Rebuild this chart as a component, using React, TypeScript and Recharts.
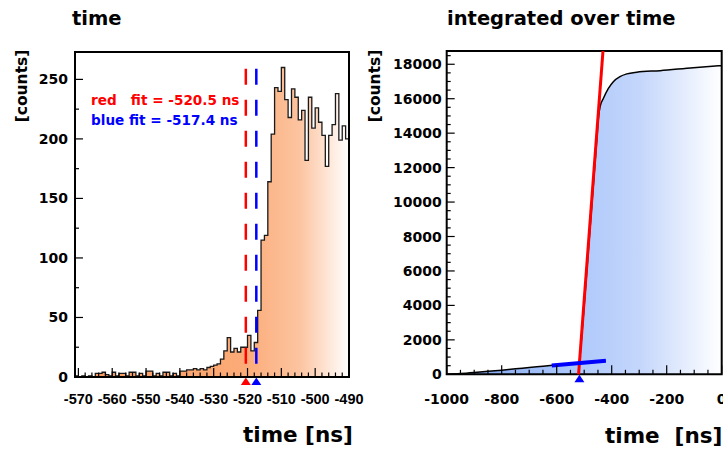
import React from "react";
import { ComposedChart, Area, XAxis, YAxis, ReferenceLine, ReferenceArea, ReferenceDot } from "recharts";

// left panel: histogram, 1 ns bins starting at -571 ns
const histStart = -571;
const histCounts = [
  1, 0, 1, 0, 1, 0, 3, 3, 4, 2,
  1, 4, 1, 3, 3, 1, 4, 4, 1, 3,
  1, 5, 5, 1, 3, 1, 4, 4, 1, 3,
  1, 5, 5, 6, 6, 7, 6, 7, 6, 8,
  9, 10, 11, 15, 22, 33, 21, 24, 21, 25,
  25, 35, 22, 29, 56, 115, 119, 164, 204, 243,
  240, 260, 233, 218, 242, 235, 216, 224, 182, 235,
  209, 226, 214, 203, 177, 203, 212, 238, 199, 211,
  200,
];
const leftXMajor = [-570, -560, -550, -540, -530, -520, -510, -500, -490];
const leftYMajor = [0, 50, 100, 150, 200, 250];

// right panel: integrated counts
const cumTime = [-1000, -950, -900, -850, -800, -750, -700, -650, -600, -550, -530, -518, -515, -510, -500, -490, -480, -470, -460, -452, -448, -442, -430, -412, -394, -370, -345, -309, -224, -103, 0];
const cumCounts = [0, 40, 100, 170, 240, 320, 390, 470, 545, 620, 650, 700, 1100, 2000, 4000, 6100, 8200, 10300, 12400, 14100, 14900, 15550, 16030, 16600, 16990, 17280, 17440, 17540, 17630, 17800, 17920];
const rightXMajor = [-1000, -800, -600, -400, -200, 0];
const rightYMajor = [0, 2000, 4000, 6000, 8000, 10000, 12000, 14000, 16000, 18000];

const redFitT = -520.5;
const blueFitT = -517.4;
const redFitLine = [{ x: -520.5, y: 0 }, { x: -431.7, y: 18770 }];
const blueFitLine = [{ x: -618, y: 515 }, { x: -421, y: 785 }];

const histData = histCounts.map((c, i) => ({ t: histStart + i, c }));
histData.push({ t: histStart + histCounts.length, c: histCounts[histCounts.length - 1] });
const cumData = cumTime.map((t, i) => ({ t, c: cumCounts[i] }));

const stepTicks = (from: number, to: number, step: number) => {
  const out: number[] = [];
  for (let v = from; v <= to + 1e-9; v += step) out.push(v);
  return out;
};

const makeYTick = (axisX: number, majors: number[], gap: number, font: string, size: number) => (props: any) => {
  const { y, payload } = props;
  const major = majors.includes(payload.value);
  return (
    <g>
      <line x1={axisX} x2={axisX + (major ? 8 : 4)} y1={y} y2={y} stroke="#000" strokeWidth={1.2} />
      {major && (
        <text x={axisX - gap} y={y} textAnchor="end" dominantBaseline="central" fontFamily={font} fontWeight="bold" fontSize={size} fill="#000">
          {payload.value}
        </text>
      )}
    </g>
  );
};

const makeXTick = (axisY: number, majors: number[], labelY: number, font: string, size: number) => (props: any) => {
  const { x, payload } = props;
  const major = majors.includes(payload.value);
  return (
    <g>
      <line x1={x} x2={x} y1={axisY} y2={axisY - (major ? 9 : 4.5)} stroke="#000" strokeWidth={1.2} />
      {major && (
        <text x={x} y={labelY} textAnchor="middle" dominantBaseline="central" fontFamily={font} fontWeight="bold" fontSize={size} fill="#000">
          {payload.value}
        </text>
      )}
    </g>
  );
};

const triangle = (color: string) => (p: any) => (
  <polygon points={`${p.cx},${p.cy + 0.5} ${p.cx - 5},${p.cy + 8} ${p.cx + 5},${p.cy + 8}`} fill={color} />
);

const txt = { fontFamily: "DejaVu Sans", fontWeight: "bold" as const };

export default function App() {
  return (
    <div style={{ position: "absolute", left: 0, top: 0, width: 723, height: 452, background: "#fff", overflow: "hidden" }}>
      <div style={{ position: "absolute", left: 0, top: 0 }}>
        <ComposedChart width={372} height={452} data={histData} margin={{ top: 52, right: 23, bottom: 45, left: 15 }}>
          <defs>
            <linearGradient id="orangeFill" x1="0" y1="0" x2="1" y2="0">
              <stop offset="0" stopColor="#f79a5c" />
              <stop offset="0.62" stopColor="#fcab78" />
              <stop offset="0.82" stopColor="#fcc4a0" />
              <stop offset="1" stopColor="#ffffff" />
            </linearGradient>
          </defs>
          <XAxis dataKey="t" type="number" domain={[-571, -490]} allowDataOverflow height={30}
            ticks={stepTicks(-570, -490, 2)} interval={0} axisLine={false} tickLine={false}
            tick={makeXTick(377, leftXMajor, 398.7, "Liberation Sans", 14.5)} />
          <YAxis type="number" domain={[0, 273]} allowDataOverflow width={60}
            ticks={stepTicks(0, 250, 25)} interval={0} axisLine={false} tickLine={false}
            tick={makeYTick(75, leftYMajor, 7, "DejaVu Sans", 14)} />
          <Area dataKey="c" type="stepAfter" stroke="#1a1a1a" strokeWidth={1.3} fill="url(#orangeFill)" fillOpacity={1} isAnimationActive={false} />
          <ReferenceLine segment={[{ x: redFitT, y: 259 }, { x: redFitT, y: 0 }]} stroke="#ff0000" strokeWidth={2.5} strokeDasharray="16 15" />
          <ReferenceLine segment={[{ x: blueFitT, y: 259 }, { x: blueFitT, y: 0 }]} stroke="#0000ff" strokeWidth={2.5} strokeDasharray="16 15" />
          <ReferenceArea x1={-571} x2={-490} y1={0} y2={273} fill="none" stroke="#000" strokeWidth={2} />
          <ReferenceDot x={redFitT} y={0} r={5} ifOverflow="visible" shape={triangle("#ff0000")} />
          <ReferenceDot x={blueFitT} y={0} r={5} ifOverflow="visible" shape={triangle("#0000ff")} />
        </ComposedChart>
      </div>
      <div style={{ position: "absolute", left: 360, top: 0 }}>
        <ComposedChart width={363} height={452} data={cumData} margin={{ top: 51, right: 1.3, bottom: 47.7, left: 16.7 }}>
          <defs>
            <linearGradient id="blueFill" x1="0" y1="0" x2="1" y2="0">
              <stop offset="0" stopColor="#6d97e8" />
              <stop offset="0.3" stopColor="#9dbcf7" />
              <stop offset="0.45" stopColor="#abc7fb" />
              <stop offset="0.7" stopColor="#c4d6fb" />
              <stop offset="1" stopColor="#ffffff" />
            </linearGradient>
          </defs>
          <XAxis dataKey="t" type="number" domain={[-1000, 0]} allowDataOverflow height={30}
            ticks={stepTicks(-1000, 0, 50)} interval={0} axisLine={false} tickLine={false}
            tick={makeXTick(374.3, rightXMajor, 398.7, "DejaVu Sans", 14)} />
          <YAxis type="number" domain={[0, 18770]} allowDataOverflow width={70}
            ticks={stepTicks(0, 18500, 500)} interval={0} axisLine={false} tickLine={false}
            tick={makeYTick(86.7, rightYMajor, 5, "DejaVu Sans", 14)} />
          <Area dataKey="c" type="monotone" stroke="#000" strokeWidth={1.5} fill="url(#blueFill)" fillOpacity={1} isAnimationActive={false} />
          <ReferenceLine segment={redFitLine} stroke="#ff0000" strokeWidth={3} />
          <ReferenceLine segment={blueFitLine} stroke="#0000ff" strokeWidth={4} />
          <ReferenceArea x1={-1000} x2={0} y1={0} y2={18770} fill="none" stroke="#000" strokeWidth={2} />
          <ReferenceDot x={blueFitT} y={0} r={5} ifOverflow="visible" shape={triangle("#0000ff")} />
        </ComposedChart>
      </div>
      <svg width={723} height={452} style={{ position: "absolute", left: 0, top: 0, pointerEvents: "none" }}>
        <text x={72} y={25} fontSize={19.5} {...txt}>time</text>
        <text x={447} y={25} fontSize={19.5} {...txt}>integrated over time</text>
        <text x={91} y={105} fontSize={13.6} fill="#ff0000" {...txt}>{"red\u00a0\u00a0\u00a0fit = -520.5 ns"}</text>
        <text x={91} y={125} fontSize={13.6} fill="#0000ff" {...txt}>blue fit = -517.4 ns</text>
        <text transform="translate(26.5,86) rotate(-90)" textAnchor="middle" fontSize={15.5} {...txt}>[counts]</text>
        <text transform="translate(380,86) rotate(-90)" textAnchor="middle" fontSize={15.5} {...txt}>[counts]</text>
        <text x={243} y={442} fontSize={21.5} {...txt}>time [ns]</text>
        <text x={605} y={443} fontSize={21.5} {...txt}>{"time\u00a0\u00a0[ns]"}</text>
      </svg>
    </div>
  );
}
